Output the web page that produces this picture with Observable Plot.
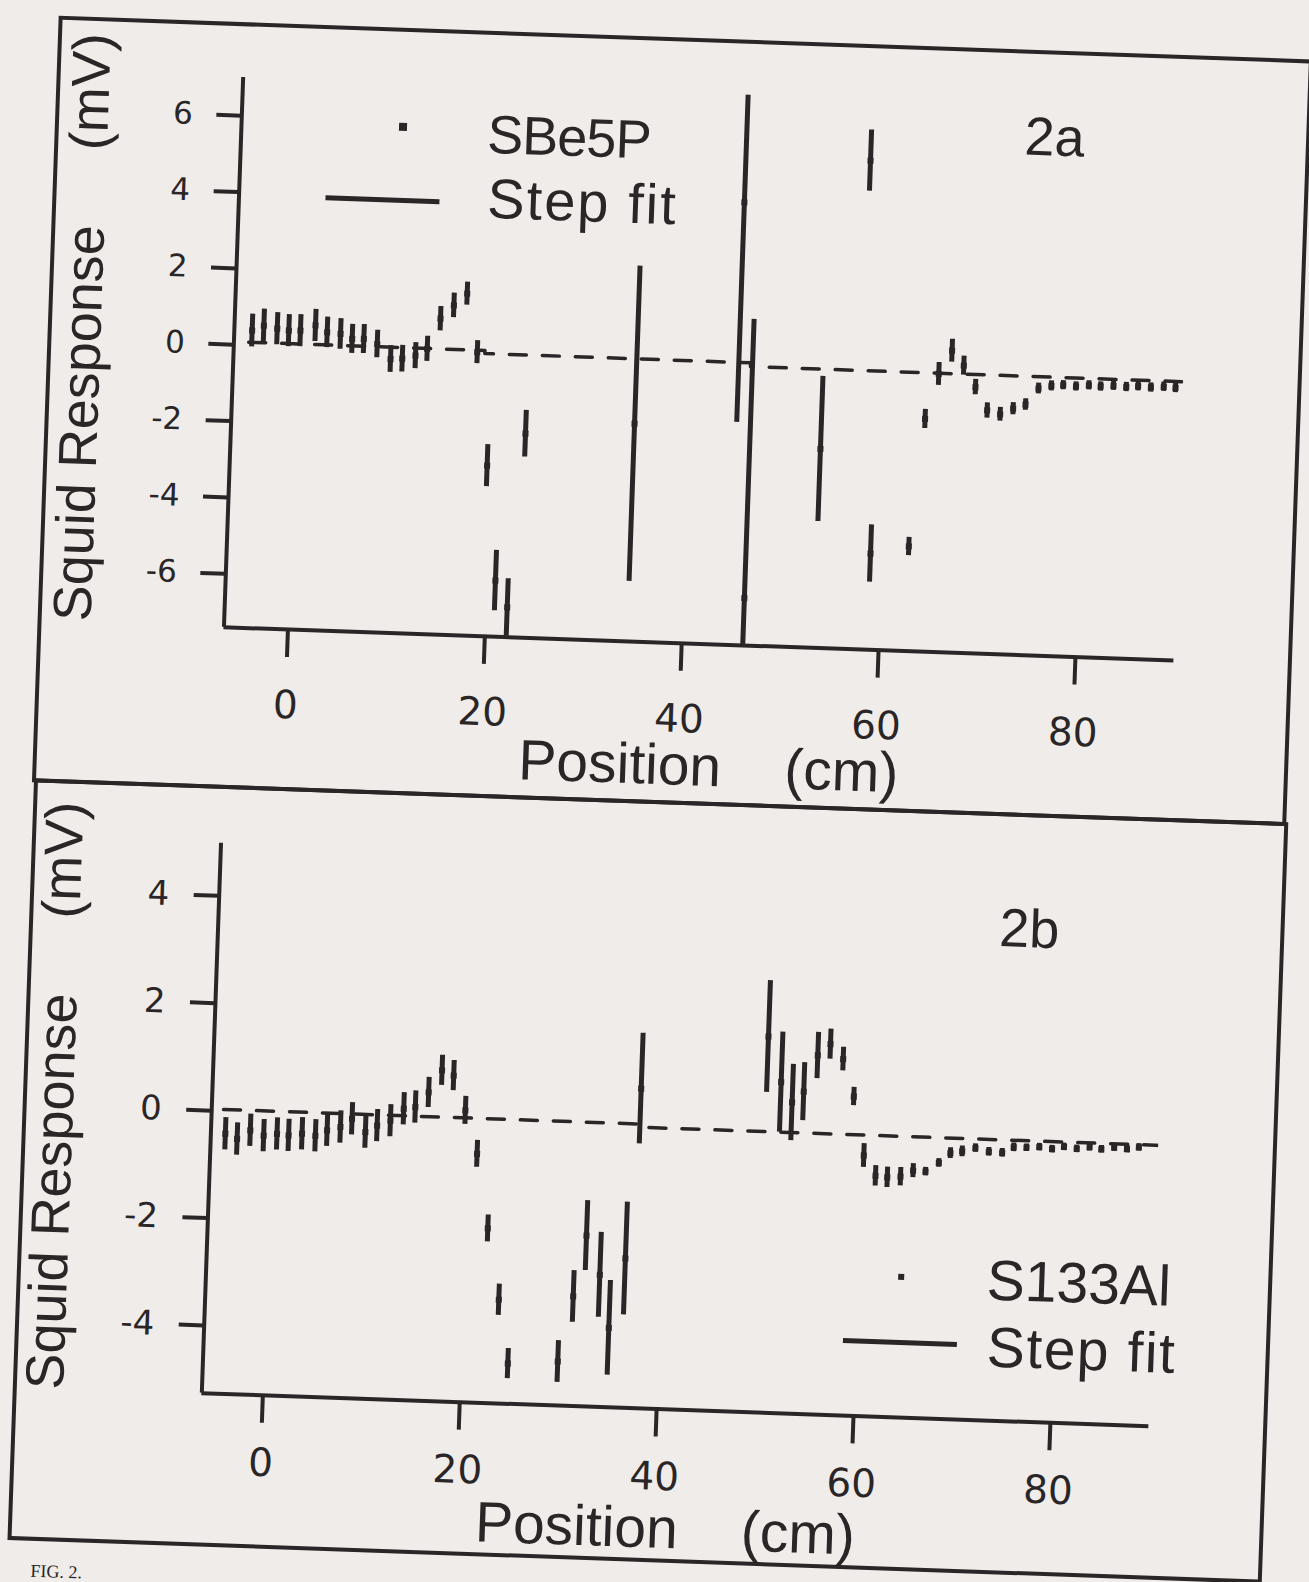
<!DOCTYPE html>
<html><head><meta charset="utf-8">
<script src="https://cdn.jsdelivr.net/npm/d3@7"></script>
<script src="https://cdn.jsdelivr.net/npm/@observablehq/plot@0.6"></script>
<style>
html,body{margin:0;padding:0;background:#efece9;overflow:hidden;width:1309px;height:1582px}
#fig{position:absolute;left:0;top:0;width:1309px;height:1582px;transform:rotate(2deg);transform-origin:654.5px 791px;color:#2a2526;font-family:"Liberation Sans",Arial,sans-serif}
.box{position:absolute;border:4px solid #2a2526;box-sizing:border-box}
.t{position:absolute;white-space:pre;line-height:1;transform:translateY(-50%)}
.c{transform:translate(-50%,-50%)}
.sq,.ln{position:absolute;background:#2a2526}
.panel{position:absolute;left:0}
.cap{position:absolute;left:58px;top:1583px;font-family:"Liberation Serif",serif;font-size:18px;line-height:1;white-space:pre}
</style></head><body>
<div id="fig">
  <div class="box" style="left:32px;top:37px;width:1255px;height:767px"></div>
  <div class="box" style="left:34px;top:800px;width:1255px;height:762px"></div>
  <div id="pa" class="panel" style="top:0"></div>
  <div id="pb" class="panel" style="top:801px"></div>
  <div class="sq" style="left:375.7px;top:132.4px;width:8px;height:8px"></div>
  <div class="t" style="left:464.7px;top:140.4px;font-size:54px;letter-spacing:-1px">SBe5P</div>
  <div class="ln" style="left:304.5px;top:206.5px;width:114px;height:5px"></div>
  <div class="t" style="left:466.9px;top:205px;font-size:56px;letter-spacing:2px">Step fit</div>
  <div class="t c" style="left:1031.6px;top:122.6px;font-size:54px">2a</div>
  <div class="sq" style="left:915px;top:1264.8px;width:6px;height:6px"></div>
  <div class="t" style="left:1003.9px;top:1267.8px;font-size:57px">S133Al</div>
  <div class="ln" style="left:861.8px;top:1331px;width:114px;height:5px"></div>
  <div class="t" style="left:1006.2px;top:1335.4px;font-size:57px;letter-spacing:1.5px">Step fit</div>
  <div class="t c" style="left:1034px;top:915.3px;font-size:54px">2b</div>
  <div class="cap">FIG. 2.</div>
</div>
<script>
// ---- Panel 2a : SBe5P ----
const posA = [-4.69,-3.52,-2.15,-0.97,0.21,1.72,2.93,4.29,5.49,6.67,8.05,9.45,10.64,11.97,13.14,14.38,15.69,17.0,18.23,19.63,20.88,22.17,23.41,34.44,44.8,46.2,53.39,57.45,58.84,62.7,63.9,65.13,66.4,67.64,68.9,70.17,71.5,72.8,74.04,75.3,76.6,77.8,79.1,80.4,81.6,82.9,84.2,85.4,86.7,88.0,89.2];
const respA = [0.39,0.53,0.46,0.42,0.43,0.58,0.41,0.38,0.26,0.27,0.15,-0.23,-0.21,-0.12,0.07,0.87,1.23,1.55,0.03,-2.93,-5.93,-6.62,-2.06,-1.70,4.19,-6.16,-2.19,5.40,-4.88,-4.66,-1.31,-0.12,0.50,0.12,-0.43,-1.03,-1.12,-0.96,-0.84,-0.41,-0.33,-0.30,-0.32,-0.28,-0.30,-0.27,-0.29,-0.26,-0.28,-0.25,-0.27];
const errA = [0.43,0.43,0.42,0.42,0.42,0.42,0.40,0.40,0.38,0.38,0.36,0.35,0.35,0.34,0.33,0.32,0.32,0.30,0.30,0.55,0.79,0.75,0.61,4.13,5.76,7.30,1.90,0.80,0.75,0.24,0.25,0.30,0.30,0.25,0.20,0.20,0.18,0.16,0.15,0.14,0.13,0.12,0.12,0.12,0.12,0.12,0.12,0.12,0.12,0.12,0.12];
const fitPosA = [-5, 19, 19, 46, 46, 90.8];
const fitRespA = [0.08, 0.08, 0.0, 0.0, -0.1, -0.1];
const ticksXA = [0, 20, 40, 60, 80];
const ticksYA = [-6, -4, -2, 0, 2, 4, 6];

// ---- Panel 2b : S133Al ----
const posB = [-4.73,-3.52,-2.21,-0.84,0.51,1.69,3.05,4.41,5.58,6.92,8.07,9.47,10.64,11.97,13.28,14.45,15.75,17.03,18.23,19.54,20.88,22.23,23.6,24.74,29.8,31.14,32.27,33.76,34.86,36.3,37.3,50.03,51.48,52.66,53.8,55.1,56.35,57.69,58.9,60.12,61.38,62.58,63.92,65.18,66.44,67.76,68.9,70.09,71.42,72.79,74.15,75.3,76.6,77.9,79.2,80.4,81.7,83.0,84.2,85.5,86.8,88.0];
const respB = [-0.42,-0.51,-0.34,-0.43,-0.39,-0.41,-0.37,-0.40,-0.29,-0.22,-0.06,-0.30,-0.17,-0.07,0.16,0.20,0.48,0.90,0.81,0.17,-0.63,-2.01,-3.33,-4.51,-4.44,-3.22,-2.08,-2.80,-3.78,-2.48,0.69,1.74,0.90,0.53,0.74,1.42,1.64,1.37,0.68,-0.41,-0.78,-0.80,-0.78,-0.66,-0.67,-0.50,-0.31,-0.27,-0.20,-0.26,-0.27,-0.16,-0.16,-0.14,-0.17,-0.12,-0.15,-0.11,-0.14,-0.10,-0.12,-0.08];
const errB = [0.30,0.30,0.30,0.30,0.30,0.30,0.30,0.30,0.30,0.30,0.30,0.30,0.30,0.30,0.30,0.30,0.28,0.28,0.28,0.26,0.25,0.25,0.29,0.28,0.39,0.48,0.65,0.79,0.88,1.05,1.03,1.04,0.93,0.71,0.54,0.43,0.28,0.22,0.17,0.22,0.19,0.19,0.17,0.13,0.08,0.08,0.10,0.10,0.08,0.08,0.08,0.08,0.07,0.07,0.07,0.07,0.07,0.07,0.07,0.07,0.07,0.07];
const fitPosB = [-5, 38, 38, 90.8];
const fitRespB = [0.03, 0.03, -0.03, -0.03];
const ticksXB = [0, 20, 40, 60, 80];
const ticksYB = [-4, -2, 0, 2, 4];

const yLabel = "Squid Response\u00a0\u00a0\u00a0\u00a0\u00a0(mV)";
const xLabel = "Position\u00a0\u00a0\u00a0 (cm)";
const ink = "#2a2526";

function panel(cfg) {
  const data = cfg.pos.map((x, i) => ({x, y: cfg.resp[i], e: cfg.err[i]}));
  const fit = cfg.fitPos.map((x, i) => ({x, y: cfg.fitResp[i]}));
  return Plot.plot({
    width: 1309, height: cfg.height,
    marginLeft: cfg.ml, marginRight: cfg.mr, marginTop: cfg.mt, marginBottom: cfg.mb,
    x: {domain: cfg.xd}, y: {domain: cfg.yd},
    style: {background: "transparent", color: ink, fontFamily: "Liberation Sans, Arial, sans-serif", overflow: "visible"},
    marks: [
      Plot.ruleX([cfg.xd[0]], {stroke: ink, strokeWidth: 4}),
      Plot.ruleY([cfg.yd[0]], {stroke: ink, strokeWidth: 4}),
      Plot.axisX(cfg.tx, {tickSize: 28, tickPadding: cfg.txPad, fontSize: 39, fontFamily: "DejaVu Sans", strokeWidth: 4, tickFormat: d => String(d), label: null}),
      Plot.axisY(cfg.ty, {tickSize: 25, tickPadding: cfg.tyPad, fontSize: cfg.tyFont, fontFamily: "DejaVu Sans", strokeWidth: 4, tickFormat: d => String(d), label: null}),
      Plot.line(fit, {x: "x", y: "y", stroke: ink, strokeWidth: 3.5, strokeDasharray: "17 16", clip: true}),
      Plot.ruleX(data, {x: "x", y1: d => d.y - d.e, y2: d => d.y + d.e, stroke: ink, strokeWidth: 5, clip: true}),
      Plot.dot(data, {x: "x", y: "y", symbol: "square", r: 3.4, fill: ink, clip: true}),
      Plot.text([yLabel], {text: d => d, frameAnchor: "left", dx: cfg.ylDx, dy: cfg.ylDy, rotate: -90, fontSize: cfg.ylFont, textAnchor: "middle", lineAnchor: "middle", fill: ink}),
      Plot.text([xLabel], {text: d => d, frameAnchor: "bottom-left", dx: cfg.xlDx, dy: cfg.xlDy, fontSize: 57, textAnchor: "start", lineAnchor: "middle", fill: ink})
    ]
  });
}

document.getElementById("pa").append(panel({
  pos: posA, resp: respA, err: errA, fitPos: fitPosA, fitResp: fitRespA,
  height: 801, ml: 218, mr: 140.5, mt: 91.8, mb: 159.1,
  xd: [-6.5, 90], yd: [-7.4, 7.0], tx: ticksXA, ty: ticksYA,
  txPad: 33, tyPad: 24, tyFont: 31,
  ylDx: -150.9, ylDy: -20, ylFont: 54, xlDx: 299, xlDy: 123.3
}));
document.getElementById("pb").append(panel({
  pos: posB, resp: respB, err: errB, fitPos: fitPosB, fitResp: fitRespB,
  height: 781, ml: 222.6, mr: 138.8, mt: 56.8, mb: 173.9,
  xd: [-6.2, 90], yd: [-5.26, 4.98], tx: ticksXB, ty: ticksYB,
  txPad: 25, tyPad: 25, tyFont: 34,
  ylDx: -156.1, ylDy: -17.2, ylFont: 54, xlDx: 277.6, xlDy: 120.3
}));
</script>
</body></html>
